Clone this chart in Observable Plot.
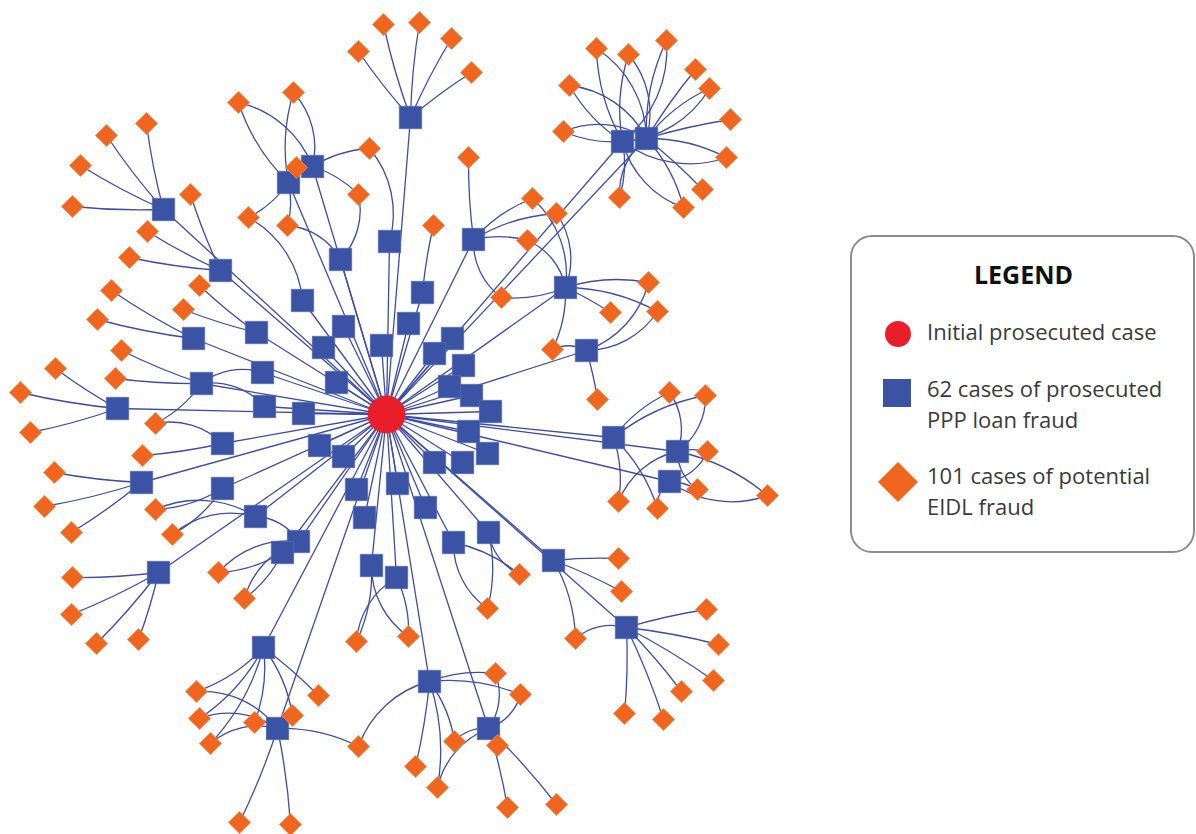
<!DOCTYPE html>
<html>
<head>
<meta charset="utf-8">
<script src="https://cdn.jsdelivr.net/npm/d3@7"></script>
<script src="https://cdn.jsdelivr.net/npm/@observablehq/plot@0.6"></script>
<style>
  body { margin: 0; background: #fff; font-family: "Open Sans", Lato, sans-serif; }
  #wrap { position: relative; width: 1196px; height: 834px; overflow: hidden; }
  #legend {
    position: absolute; left: 850px; top: 235px; width: 345px; height: 318px;
    border: 2px solid #8c8c8c; border-radius: 22px; box-sizing: border-box; background: #fff;
    color: #333;
  }
  #legend .title { position: absolute; left: 2px; right: 0; top: 20px; text-align: center;
    font-weight: 700; font-size: 25px; color: #111; line-height: 34px; }
  #legend .row { position: absolute; left: 75px; font-size: 22px; line-height: 31px; color: #3a3a3a; }
  #legend svg { position: absolute; }
</style>
</head>
<body>
<div id="wrap">
  <div id="chart"></div>
  <div id="legend">
    <div class="title">LEGEND</div>
    <svg style="left:31px;top:82px" width="30" height="30"><circle cx="15" cy="15" r="13" fill="#e81f2b"/></svg>
    <div class="row" style="top:79px">Initial prosecuted case</div>
    <svg style="left:30px;top:141px" width="30" height="30"><rect x="1" y="1" width="28" height="28" fill="#3a53a4"/></svg>
    <div class="row" style="top:136px">62 cases of prosecuted<br>PPP loan fraud</div>
    <svg style="left:24px;top:223px" width="44" height="44"><path d="M22 2 L42 22 L22 42 L2 22 Z" fill="#f0661f"/></svg>
    <div class="row" style="top:223px">101 cases of potential<br>EIDL fraud</div>
  </div>
</div>
<script>
// Layout positions
const centerX = [386];
const centerY = [414];

const squareX = [410,622,646,312,288,163,389,473,340,220,565,302,422,343,408,256,193,323,381,452,434,586,463,262,201,336,449,117,264,303,471,490,468,613,222,319,343,677,434,462,487,141,669,222,397,356,425,364,255,488,453,298,282,553,371,396,158,626,263,429,488,277];
const squareY = [117,141,138,166,182,209,241,239,259,270,287,300,292,326,323,332,338,347,345,338,353,350,365,372,383,382,386,408,406,413,395,411,431,437,443,445,456,451,462,462,453,482,481,488,483,489,507,517,516,532,542,541,552,560,565,577,572,627,647,681,728,728];

const diamondX = [383,358,293,238,146,106,80,72,190,147,129,296,369,358,248,287,419,451,471,596,628,666,695,709,730,726,702,683,619,563,569,468,433,532,556,527,111,199,183,97,121,55,115,20,30,155,142,54,44,155,71,172,648,501,610,657,552,597,669,705,707,697,767,618,657,72,71,96,138,218,244,356,196,318,199,254,292,210,358,239,290,519,487,408,618,621,575,706,718,713,681,663,624,495,520,454,497,415,437,507,556];
const diamondY = [24,51,92,102,123,135,165,206,194,231,257,167,148,194,217,225,22,38,72,48,54,40,69,88,119,157,189,207,197,131,85,157,225,198,213,240,290,285,309,319,350,368,378,392,432,423,455,472,506,509,532,534,282,297,312,311,349,399,392,395,451,489,495,501,508,577,614,643,639,572,598,641,691,695,718,722,715,743,746,822,824,574,608,636,558,591,638,609,644,680,691,719,713,673,694,741,745,766,787,807,804];
// square(s) each diamond is linked to
const diamondParents = [[0],[0],[4,3],[4,3],[5],[5],[5],[5],[9],[9],[9],[4,3],[3,6],[3,8],[4,11],[4,8],[0],[0],[0],[1,2],[1,2],[2,1],[2],[2,1],[2],[2,1],[2],[2,1],[1,2],[1,2],[1,2],[7],[12],[7,10],[7,10],[7,10],[16],[15],[15],[16],[24],[27],[24],[27],[27],[24,34],[34],[41],[41],[43,48],[41],[43,48],[10,21],[10,7],[10],[10,21],[10,21],[21],[33,37],[33,37],[37,42],[42,37],[37,42],[33,37],[33,42],[56],[56],[56],[56],[52,51],[52,51],[54,55],[58,61],[58],[58,61],[58,61],[58,61],[58,61],[61,59],[61],[61],[50,49],[49,50],[55,54],[53],[53],[53,57],[57],[57],[57],[57],[57],[57],[59,60],[59,60],[59,60],[60],[59],[59,60],[60],[60]];
// a few square-to-square links
const squareLinks = [[23,24],[28,24],[51,48]];

const hub = centerX.map((x, i) => ({x, y: centerY[i]}));
const squares = squareX.map((x, i) => ({x, y: squareY[i]}));
const diamonds = diamondX.map((x, i) => ({x, y: diamondY[i]}));

const spokes = squares.map(s => ({x1: hub[0].x, y1: hub[0].y, x2: s.x, y2: s.y}));
const edgesStraight = [], edgesBendA = [], edgesBendB = [];
diamondParents.forEach((ps, i) => {
  ps.forEach((p, k) => {
    const e = {x1: squares[p].x, y1: squares[p].y, x2: diamonds[i].x, y2: diamonds[i].y};
    if (ps.length === 1) edgesStraight.push(e);
    else if (k === 0) edgesBendA.push(e);
    else edgesBendB.push(e);
  });
});
squareLinks.forEach(([a, b]) => edgesBendB.push({x1: squares[a].x, y1: squares[a].y, x2: squares[b].x, y2: squares[b].y}));

const edgeStyle = {x1: "x1", y1: "y1", x2: "x2", y2: "y2", stroke: "#3e4ca6", strokeWidth: 1.3, headLength: 0};

const chart = Plot.plot({
  width: 1196, height: 834,
  margin: 0,
  x: {domain: [0, 1196], range: [0, 1196], axis: null},
  y: {domain: [0, 834], range: [0, 834], axis: null},
  marks: [
    Plot.link(spokes, {x1: "x1", y1: "y1", x2: "x2", y2: "y2", stroke: "#3e4ca6", strokeWidth: 1.3}),
    Plot.arrow(edgesStraight, {...edgeStyle, bend: 4}),
    Plot.arrow(edgesBendA, {...edgeStyle, bend: 14}),
    Plot.arrow(edgesBendB, {...edgeStyle, bend: -28}),
    Plot.dot(squares, {x: "x", y: "y", symbol: "square", r: 12.6, fill: "#3a53a4", stroke: "#5468b0", strokeWidth: 0.8}),
    Plot.dot(diamonds, {x: "x", y: "y", symbol: "diamond2", r: 10, fill: "#f0661f", stroke: "#f58a4e", strokeWidth: 0.8}),
    Plot.dot(hub, {x: "x", y: "y", r: 19, fill: "#e81f2b"})
  ]
});
document.getElementById("chart").appendChild(chart);
</script>
</body>
</html>
